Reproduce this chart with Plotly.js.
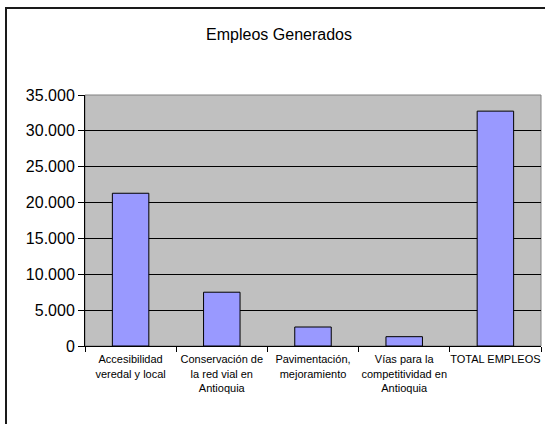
<!DOCTYPE html>
<html>
<head>
<meta charset="utf-8">
<script src="https://cdn.plot.ly/plotly-3.0.1.min.js"></script>
<style>
html,body{margin:0;padding:0;background:#fff;overflow:hidden;}
#chart{width:545px;height:424px;position:relative;}
#frame{position:absolute;left:5px;top:7px;width:600px;height:500px;border:2px solid #1a1a1a;pointer-events:none;}
</style>
</head>
<body>
<div id="chart"></div>
<div id="frame"></div>
<script>
const categories = [
  "Accesibilidad<br>veredal y local",
  "Conservación de<br>la red vial en<br>Antioquia",
  "Pavimentación,<br>mejoramiento",
  "Vías para la<br>competitividad en<br>Antioquia",
  "TOTAL EMPLEOS"
];
const empleos = [21300, 7500, 2650, 1300, 32750];
const yTicks = [0, 5000, 10000, 15000, 20000, 25000, 30000, 35000];

const trace = {
  type: "bar",
  x: categories,
  y: empleos,
  width: 0.4,
  marker: {color: "#9999ff", line: {color: "#000", width: 1}},
  hoverinfo: "none"
};

const layout = {
  width: 545, height: 424,
  margin: {l: 85, r: 4, t: 95, b: 78},
  paper_bgcolor: "#ffffff",
  plot_bgcolor: "#c0c0c0",
  separators: ",.",
  showlegend: false,
  title: {
    text: "Empleos Generados",
    font: {family: "Liberation Sans, Arial, sans-serif", size: 16, color: "#000"},
    x: 0.512, xanchor: "center", y: 0.918, yanchor: "middle"
  },
  xaxis: {
    type: "category",
    tickson: "boundaries",
    ticks: "outside", ticklen: 5, tickcolor: "#000", tickwidth: 1,
    showline: true, linecolor: "#000", linewidth: 1,
    showgrid: false,
    tickfont: {family: "Liberation Sans, Arial, sans-serif", size: 11, color: "#000"},
    tickangle: 0,
    ticklabelstandoff: 3,
    fixedrange: true
  },
  yaxis: {
    range: [0, 35000],
    tickvals: yTicks,
    tickformat: ",d",
    ticks: "outside", ticklen: 6, tickcolor: "#000", tickwidth: 1,
    showline: true, linecolor: "#000", linewidth: 1,
    showgrid: true, gridcolor: "#000", gridwidth: 1,
    zeroline: false,
    tickfont: {family: "Liberation Sans, Arial, sans-serif", size: 16, color: "#000"},
    fixedrange: true
  },
  shapes: [{
    type: "rect", xref: "paper", yref: "paper",
    x0: 0, x1: 1, y0: 0, y1: 1,
    line: {color: "#808080", width: 1}, layer: "below"
  }]
};

Plotly.newPlot("chart", [trace], layout, {displayModeBar: false, staticPlot: true});
</script>
</body>
</html>
